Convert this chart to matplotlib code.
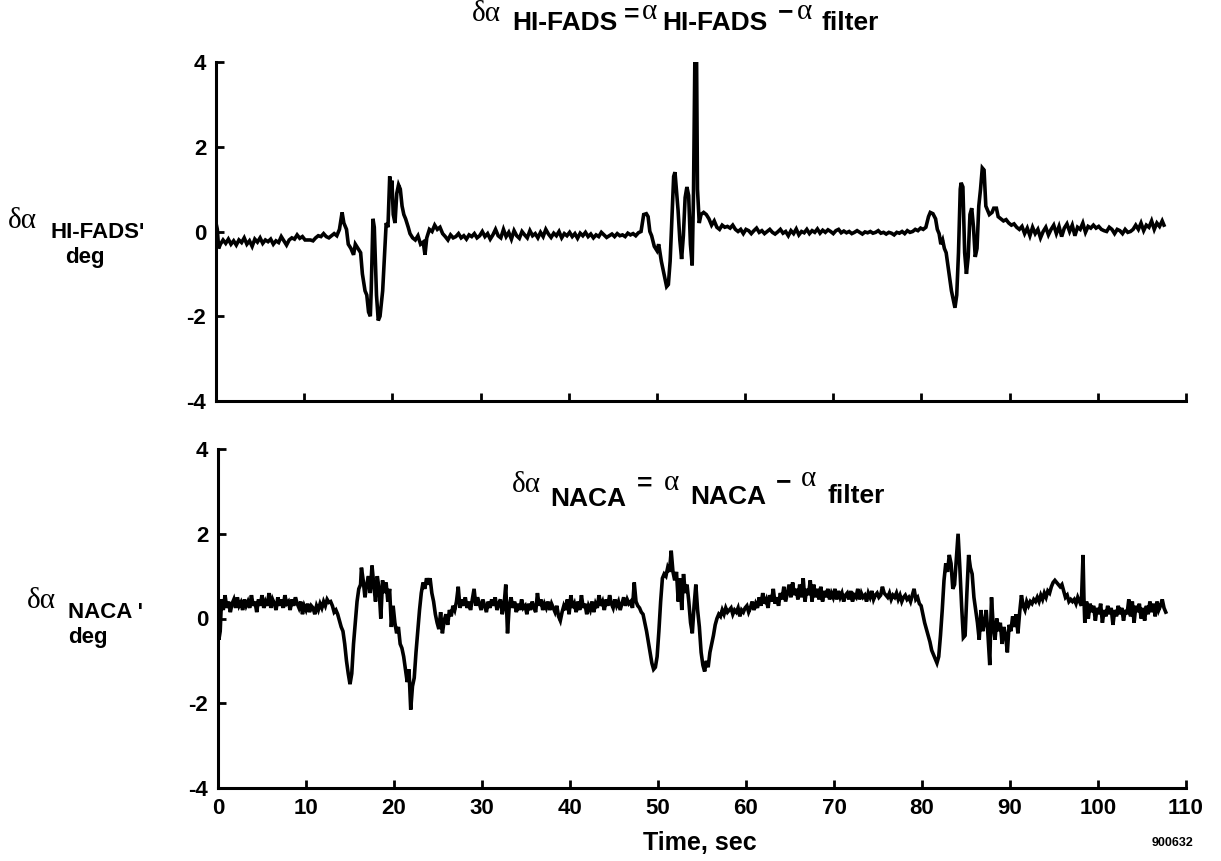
import matplotlib
matplotlib.use('Agg')
import matplotlib.pyplot as plt
from matplotlib.font_manager import FontProperties

# ---------------- data ----------------
t_fads = [0.0, 0.15, 0.3, 0.5, 0.8, 1.1, 1.4, 1.7, 2.0, 2.3, 2.6, 2.9, 3.2, 3.5, 3.8, 4.1, 4.4, 4.7,
          5.0, 5.3, 5.6, 5.9, 6.2, 6.5, 6.8, 7.1, 7.4, 7.7, 8.0, 8.3, 8.6, 8.9, 9.2, 9.5, 9.8,
          10.1, 10.4, 10.7, 11.0, 11.3, 11.6, 11.9, 12.2, 12.5, 12.8, 13.1, 13.4, 13.7, 14.0,
          14.3, 14.5, 14.8, 15.0, 15.3, 15.6, 15.8, 16.1, 16.4, 16.6, 16.9, 17.1, 17.3, 17.5,
          17.6, 17.8, 17.95, 18.2, 18.4, 18.6, 18.9, 19.1, 19.3, 19.5, 19.7, 19.8, 19.95, 20.1,
          20.3, 20.5, 20.7, 20.9, 21.1, 21.3, 21.5, 21.8, 22.0, 22.3, 22.6, 22.9, 23.2, 23.5,
          23.7, 23.9, 24.2, 24.5, 24.8, 25.1, 25.4, 25.7, 26.0, 26.3, 26.6, 26.9, 27.2, 27.5,
          27.8, 28.1, 28.4, 28.7, 29.0, 29.3, 29.6, 29.9, 30.2, 30.5, 30.8, 31.1, 31.4, 31.7,
          32.0, 32.3, 32.6, 32.9, 33.2, 33.5, 33.8, 34.1, 34.4, 34.7, 35.0, 35.3, 35.6, 35.9,
          36.2, 36.5, 36.8, 37.1, 37.4, 37.7, 38.0, 38.3, 38.6, 38.9, 39.2, 39.5, 39.8, 40.1,
          40.4, 40.7, 41.0, 41.3, 41.6, 41.9, 42.2, 42.5, 42.8, 43.1, 43.4, 43.7, 44.0, 44.3,
          44.6, 44.9, 45.2, 45.5, 45.8, 46.1, 46.4, 46.7, 47.0, 47.3, 47.6, 47.9, 48.2, 48.5,
          48.8, 49.0, 49.2, 49.4, 49.7, 50.0, 50.2, 50.5, 50.8, 51.1, 51.3, 51.5, 51.7, 51.9,
          52.05, 52.2, 52.4, 52.6, 52.8, 53.0, 53.2, 53.4, 53.6, 53.8, 54.0, 54.15, 54.3, 54.5,
          54.6, 54.8, 55.0, 55.3, 55.6, 55.9, 56.2, 56.5, 56.8, 57.1, 57.4, 57.7, 58.0, 58.3,
          58.6, 58.9, 59.2, 59.5, 59.8, 60.1, 60.4, 60.7, 61.0, 61.3, 61.6, 61.9, 62.2, 62.5,
          62.8, 63.1, 63.4, 63.7, 64.0, 64.3, 64.6, 64.9, 65.2, 65.5, 65.8, 66.1, 66.4, 66.7,
          67.0, 67.3, 67.6, 67.9, 68.2, 68.5, 68.8, 69.1, 69.4, 69.7, 70.0, 70.3, 70.6, 70.9,
          71.2, 71.5, 71.8, 72.1, 72.4, 72.7, 73.0, 73.3, 73.6, 73.9, 74.2, 74.5, 74.8, 75.1,
          75.4, 75.7, 76.0, 76.3, 76.6, 76.9, 77.2, 77.5, 77.8, 78.1, 78.4, 78.7, 79.0, 79.3,
          79.6, 79.9, 80.2, 80.5, 80.8, 81.0, 81.3, 81.6, 81.8, 82.0, 82.2, 82.4, 82.6, 82.8,
          83.0, 83.2, 83.4, 83.6, 83.8, 84.0, 84.2, 84.4, 84.5, 84.7, 84.9, 85.1, 85.3, 85.5,
          85.7, 85.9, 86.1, 86.3, 86.5, 86.7, 86.9, 87.1, 87.3, 87.5, 87.7, 88.0, 88.2, 88.5,
          88.7, 89.0, 89.3, 89.6, 89.9, 90.2, 90.5, 90.8, 91.1, 91.4, 91.7, 92.0, 92.3, 92.6,
          92.9, 93.2, 93.5, 93.8, 94.1, 94.4, 94.7, 95.0, 95.3, 95.6, 95.9, 96.2, 96.5, 96.8,
          97.1, 97.4, 97.7, 98.0, 98.3, 98.6, 98.9, 99.2, 99.5, 99.8, 100.1, 100.4, 100.7,
          101.0, 101.3, 101.6, 101.9, 102.2, 102.5, 102.8, 103.1, 103.4, 103.7, 104.0, 104.3,
          104.6, 104.9, 105.2, 105.5, 105.8, 106.1, 106.4, 106.7, 107.0, 107.3, 107.5]
v_fads = [0.20, 0.05, -0.40, -0.30, -0.20, -0.28, -0.18, -0.30, -0.22, -0.32, -0.20, -0.26, -0.15,
          -0.30, -0.22, -0.35, -0.18, -0.25, -0.15, -0.28, -0.20, -0.24, -0.18, -0.30, -0.22,
          -0.26, -0.12, -0.22, -0.32, -0.20, -0.15, -0.18, -0.08, -0.16, -0.12, -0.20, -0.20,
          -0.20, -0.22, -0.15, -0.10, -0.12, -0.05, -0.12, -0.15, -0.10, -0.05, -0.10, 0.05,
          0.45, 0.20, 0.05, -0.30, -0.40, -0.55, -0.30, -0.40, -0.50, -1.00, -1.40, -1.50,
          -1.90, -2.00, -1.40, 0.30, 0.10, -1.50, -2.10, -2.00, -1.40, -0.60, 0.20, 0.10, 1.30,
          0.80, 1.20, 0.40, 0.20, 0.90, 1.10, 1.00, 0.60, 0.40, 0.30, 0.10, -0.05, -0.15, -0.20,
          -0.10, -0.30, -0.25, -0.55, -0.15, 0.05, 0.00, 0.15, 0.05, 0.10, -0.05, -0.12, -0.20,
          -0.08, -0.15, -0.12, -0.05, -0.15, -0.10, -0.18, -0.08, -0.12, -0.05, -0.15, -0.10,
          0.00, -0.12, -0.05, -0.18, -0.08, 0.05, -0.10, -0.15, 0.05, -0.12, -0.02, -0.18, 0.02,
          -0.10, -0.16, 0.00, -0.08, -0.15, 0.02, -0.10, -0.05, -0.15, -0.02, -0.12, 0.05,
          -0.06, -0.14, -0.04, -0.10, 0.00, -0.15, -0.05, -0.10, -0.02, -0.12, -0.05, -0.16,
          -0.04, -0.10, -0.02, -0.12, -0.06, -0.15, -0.08, -0.12, -0.02, -0.08, -0.14, -0.10,
          -0.06, -0.12, -0.05, -0.10, -0.08, -0.12, -0.04, -0.08, -0.05, -0.10, -0.03, 0.00,
          0.40, 0.42, 0.35, 0.00, -0.10, -0.35, -0.45, -0.30, -0.70, -1.00, -1.30, -1.25, -0.70,
          0.30, 1.30, 1.40, 1.00, 0.50, -0.20, -0.65, -0.10, 0.80, 1.05, 0.85, -0.30, -0.80,
          0.90, 4.00, 4.00, 1.00, 0.20, 0.40, 0.45, 0.40, 0.30, 0.15, 0.25, 0.10, 0.05, 0.15,
          0.10, 0.12, 0.08, 0.15, 0.05, 0.00, 0.05, -0.05, 0.05, 0.02, -0.05, 0.02, 0.08, -0.02,
          0.02, -0.05, 0.00, 0.05, -0.02, -0.06, -0.01, 0.05, -0.04, 0.00, -0.10, 0.02, -0.05,
          0.06, -0.08, 0.00, -0.03, 0.05, -0.05, 0.02, -0.02, 0.06, -0.04, 0.03, -0.02, 0.04,
          0.00, -0.05, 0.02, 0.05, -0.03, 0.01, -0.03, 0.00, -0.05, -0.02, 0.02, -0.02, -0.06,
          -0.01, -0.03, 0.00, -0.04, -0.02, 0.02, -0.04, -0.02, -0.06, -0.02, -0.04, -0.08,
          -0.02, -0.04, 0.00, -0.05, 0.02, -0.02, 0.00, 0.05, 0.02, 0.08, 0.05, 0.10, 0.35,
          0.45, 0.42, 0.30, 0.05, -0.05, -0.30, -0.20, -0.40, -0.50, -0.80, -1.10, -1.40, -1.60,
          -1.80, -1.50, -0.50, 1.00, 1.15, 1.05, -0.50, -1.00, -0.60, 0.40, 0.55, 0.10, -0.60,
          -0.40, 0.60, 1.00, 1.50, 1.45, 0.60, 0.50, 0.40, 0.45, 0.55, 0.55, 0.35, 0.30, 0.25,
          0.28, 0.20, 0.15, 0.18, 0.10, 0.05, 0.12, -0.05, 0.08, -0.10, 0.10, -0.05, 0.05, -0.15,
          0.00, 0.10, -0.08, 0.05, 0.15, -0.05, 0.12, -0.12, 0.08, 0.18, 0.00, 0.15, -0.10, 0.10,
          0.05, 0.20, -0.02, 0.12, 0.08, 0.15, 0.08, 0.12, 0.05, 0.02, 0.00, 0.10, 0.05, -0.05,
          0.05, 0.02, -0.05, 0.05, -0.02, 0.00, 0.05, 0.15, 0.05, 0.20, 0.02, 0.15, 0.10, 0.25,
          0.05, 0.20, 0.12, 0.25, 0.15]

t_naca = [0.0, 0.1, 0.25, 0.4, 0.6, 0.8, 1.0, 1.2, 1.4, 1.6, 1.8, 2.0, 2.2, 2.4, 2.6, 2.8, 3.0,
          3.2, 3.4, 3.6, 3.8, 4.0, 4.2, 4.4, 4.6, 4.8, 5.0, 5.2, 5.4, 5.6, 5.8, 6.0, 6.2, 6.4,
          6.6, 6.8, 7.0, 7.2, 7.4, 7.6, 7.8, 8.0, 8.2, 8.4, 8.6, 8.8, 9.0, 9.2, 9.4, 9.6, 9.8,
          10.0, 10.2, 10.4, 10.6, 10.8, 11.0, 11.2, 11.4, 11.6, 11.8, 12.0, 12.2, 12.4, 12.6,
          12.8, 13.0, 13.2, 13.4, 13.6, 13.8, 14.0, 14.2, 14.4, 14.6, 14.8, 15.0, 15.2, 15.4,
          15.6, 15.8, 16.0, 16.2, 16.3, 16.5, 16.7, 16.9, 17.1, 17.3, 17.5, 17.7, 17.9, 18.1,
          18.3, 18.5, 18.7, 18.9, 19.1, 19.3, 19.5, 19.7, 19.9, 20.1, 20.3, 20.5, 20.7, 20.9,
          21.1, 21.3, 21.5, 21.7, 21.9, 22.1, 22.3, 22.5, 22.7, 22.9, 23.1, 23.3, 23.5, 23.7,
          23.9, 24.1, 24.3, 24.5, 24.7, 24.9, 25.1, 25.3, 25.5, 25.7, 25.9, 26.1, 26.3, 26.5,
          26.7, 26.9, 27.1, 27.3, 27.5, 27.7, 27.9, 28.1, 28.3, 28.5, 28.7, 28.9, 29.1, 29.3,
          29.5, 29.7, 29.9, 30.1, 30.3, 30.5, 30.7, 30.9, 31.1, 31.3, 31.5, 31.7, 31.9, 32.1,
          32.3, 32.5, 32.7, 32.9, 33.1, 33.3, 33.5, 33.7, 33.9, 34.1, 34.3, 34.5, 34.7, 34.9,
          35.1, 35.3, 35.5, 35.7, 35.9, 36.1, 36.3, 36.5, 36.7, 36.9, 37.1, 37.3, 37.5, 37.7,
          37.9, 38.1, 38.3, 38.5, 38.7, 38.9, 39.1, 39.3, 39.5, 39.7, 39.9, 40.1, 40.3, 40.5,
          40.7, 40.9, 41.1, 41.3, 41.5, 41.7, 41.9, 42.1, 42.3, 42.5, 42.7, 42.9, 43.1, 43.3,
          43.5, 43.7, 43.9, 44.1, 44.3, 44.5, 44.7, 44.9, 45.1, 45.3, 45.5, 45.7, 45.9, 46.1,
          46.3, 46.5, 46.7, 46.9, 47.1, 47.3, 47.5, 47.7, 47.9, 48.1, 48.3, 48.5, 48.7, 48.9,
          49.1, 49.3, 49.5, 49.7, 49.9, 50.1, 50.3, 50.5, 50.7, 50.9, 51.1, 51.3, 51.5, 51.7,
          51.9, 52.1, 52.3, 52.5, 52.7, 52.9, 53.1, 53.3, 53.5, 53.7, 53.9, 54.1, 54.3, 54.5,
          54.7, 54.9, 55.1, 55.3, 55.5, 55.7, 55.9, 56.1, 56.3, 56.5, 56.7, 56.9, 57.1, 57.3,
          57.5, 57.7, 57.9, 58.1, 58.3, 58.5, 58.7, 58.9, 59.1, 59.3, 59.5, 59.7, 59.9, 60.1,
          60.3, 60.5, 60.7, 60.9, 61.1, 61.3, 61.5, 61.7, 61.9, 62.1, 62.3, 62.5, 62.7, 62.9,
          63.1, 63.3, 63.5, 63.7, 63.9, 64.1, 64.3, 64.5, 64.7, 64.9, 65.1, 65.3, 65.5, 65.7,
          65.9, 66.1, 66.3, 66.5, 66.7, 66.9, 67.1, 67.3, 67.5, 67.7, 67.9, 68.1, 68.3, 68.5,
          68.7, 68.9, 69.1, 69.3, 69.5, 69.7, 69.9, 70.1, 70.3, 70.5, 70.7, 70.9, 71.1, 71.3,
          71.5, 71.7, 71.9, 72.1, 72.3, 72.5, 72.7, 72.9, 73.1, 73.3, 73.5, 73.7, 73.9, 74.1,
          74.3, 74.5, 74.7, 74.9, 75.1, 75.3, 75.5, 75.7, 75.9, 76.1, 76.3, 76.5, 76.7, 76.9,
          77.1, 77.3, 77.5, 77.7, 77.9, 78.1, 78.3, 78.5, 78.7, 78.9, 79.1, 79.3, 79.5, 79.7,
          79.9, 80.1, 80.3, 80.5, 80.7, 80.9, 81.1, 81.3, 81.5, 81.7, 81.9, 82.1, 82.3, 82.5,
          82.7, 82.9, 83.1, 83.3, 83.5, 83.7, 83.9, 84.1, 84.3, 84.5, 84.7, 84.9, 85.1, 85.3,
          85.5, 85.7, 85.9, 86.1, 86.3, 86.5, 86.7, 86.9, 87.1, 87.3, 87.5, 87.7, 87.8, 87.9,
          88.1, 88.3, 88.5, 88.7, 88.9, 89.1, 89.3, 89.5, 89.7, 89.9, 90.1, 90.3, 90.5, 90.7,
          90.9, 91.1, 91.3, 91.5, 91.7, 91.9, 92.1, 92.3, 92.5, 92.7, 92.9, 93.1, 93.3, 93.5,
          93.7, 93.9, 94.1, 94.3, 94.5, 94.7, 94.9, 95.1, 95.3, 95.5, 95.7, 95.9, 96.1, 96.3,
          96.5, 96.7, 96.9, 97.1, 97.3, 97.5, 97.7, 97.9, 98.1, 98.3, 98.4, 98.5, 98.7, 98.9,
          99.1, 99.3, 99.5, 99.7, 99.9, 100.1, 100.3, 100.5, 100.7, 100.9, 101.1, 101.3, 101.5,
          101.7, 101.9, 102.1, 102.3, 102.5, 102.7, 102.9, 103.1, 103.3, 103.5, 103.7, 103.9,
          104.1, 104.3, 104.5, 104.7, 104.9, 105.1, 105.3, 105.5, 105.7, 105.9, 106.1, 106.3,
          106.5, 106.7, 106.9, 107.1, 107.3, 107.5, 107.7]
v_naca = [0.20, -0.50, -0.30, 0.45, 0.20, 0.55, 0.25, 0.40, 0.15, 0.35, 0.45, 0.25, 0.50, 0.30,
          0.38, 0.20, 0.45, 0.30, 0.40, 0.25, 0.55, 0.30, 0.40, 0.15, 0.45, 0.30, 0.55, 0.25,
          0.40, 0.30, 0.60, 0.25, 0.45, 0.35, 0.20, 0.50, 0.30, 0.45, 0.25, 0.55, 0.35, 0.40,
          0.20, 0.45, 0.30, 0.50, 0.35, 0.25, 0.40, 0.10, 0.30, 0.20, 0.35, 0.15, 0.30, 0.25,
          0.10, 0.30, 0.20, 0.35, 0.25, 0.40, 0.30, 0.45, 0.38, 0.40, 0.30, 0.15, 0.20, 0.10,
          -0.05, -0.20, -0.30, -0.60, -1.00, -1.30, -1.55, -1.30, -0.60, -0.10, 0.40, 0.70,
          0.80, 1.20, 0.90, 0.50, 0.80, 1.00, 0.60, 1.25, 0.80, 0.40, 1.00, 0.70, 0.00, 0.90,
          0.60, 0.85, 0.40, 0.70, -0.20, 0.30, -0.10, -0.35, -0.20, -0.60, -0.70, -0.90, -1.20,
          -1.50, -1.20, -2.15, -1.60, -1.40, -0.80, -0.30, 0.20, 0.60, 0.85, 0.70, 0.95, 0.80,
          0.95, 0.60, 0.40, 0.10, -0.10, -0.25, 0.15, -0.35, -0.05, 0.10, -0.15, 0.20, 0.05,
          0.30, 0.20, 0.40, 0.75, 0.25, 0.45, 0.30, 0.50, 0.25, 0.40, 0.20, 0.45, 0.70, 0.30,
          0.50, 0.35, 0.20, 0.45, 0.30, 0.15, 0.40, 0.25, 0.45, 0.30, 0.50, 0.20, 0.35, 0.45,
          0.10, 0.30, 0.80, -0.35, 0.30, 0.50, 0.25, 0.40, 0.15, 0.35, 0.20, 0.45, 0.25, 0.30,
          0.10, 0.35, 0.20, 0.40, 0.25, 0.15, 0.60, 0.30, 0.45, 0.20, 0.35, 0.25, 0.40, 0.20,
          0.35, 0.25, 0.15, 0.30, 0.05, -0.05, 0.15, 0.30, 0.20, 0.45, 0.10, 0.55, 0.25, 0.35,
          0.15, 0.40, 0.20, 0.55, 0.25, 0.35, 0.10, 0.30, 0.20, 0.40, 0.15, 0.35, 0.25, 0.55,
          0.30, 0.40, 0.20, 0.45, 0.30, 0.55, 0.35, 0.25, 0.45, 0.30, 0.40, 0.20, 0.35, 0.50,
          0.30, 0.45, 0.35, 0.40, 0.25, 0.85, 0.40, 0.30, 0.25, 0.15, 0.10, -0.10, -0.30, -0.55,
          -0.80, -1.05, -1.20, -1.15, -0.90, -0.30, 0.40, 0.95, 1.05, 1.00, 1.20, 1.10, 1.60,
          1.10, 0.90, 1.10, 0.40, 0.95, 0.20, 1.05, 0.60, 0.80, 0.40, -0.10, -0.35, 0.30, 0.80,
          0.20, -0.20, -0.80, -1.10, -1.25, -1.00, -1.15, -0.80, -0.60, -0.40, -0.15, 0.00,
          0.10, 0.05, 0.20, 0.10, 0.25, 0.15, 0.20, 0.25, 0.10, 0.20, 0.15, 0.25, 0.05, 0.20,
          0.15, 0.25, 0.30, 0.15, 0.25, 0.40, 0.20, 0.35, 0.25, 0.50, 0.30, 0.60, 0.35, 0.45,
          0.25, 0.55, 0.40, 0.70, 0.35, 0.50, 0.30, 0.60, 0.45, 0.75, 0.40, 0.60, 0.80, 0.50,
          0.85, 0.55, 0.70, 0.45, 0.80, 0.50, 0.95, 0.40, 0.70, 0.55, 0.90, 0.40, 0.80, 0.50,
          0.70, 0.45, 0.75, 0.40, 0.65, 0.50, 0.70, 0.45, 0.60, 0.50, 0.70, 0.45, 0.65, 0.50,
          0.60, 0.40, 0.55, 0.60, 0.45, 0.65, 0.40, 0.55, 0.50, 0.70, 0.45, 0.60, 0.50, 0.55,
          0.40, 0.60, 0.50, 0.65, 0.45, 0.55, 0.60, 0.50, 0.55, 0.75, 0.60, 0.55, 0.50, 0.60,
          0.45, 0.55, 0.50, 0.60, 0.45, 0.55, 0.40, 0.50, 0.55, 0.45, 0.50, 0.40, 0.55, 0.70,
          0.45, 0.50, 0.35, 0.30, 0.10, -0.10, -0.25, -0.40, -0.55, -0.75, -0.85, -0.95, -1.05,
          -0.90, -0.40, 0.20, 0.90, 1.30, 1.10, 1.50, 1.30, 0.70, 0.80, 1.40, 2.00, 1.20, 0.30,
          -0.45, -0.40, 0.60, 1.50, 1.20, 1.05, 0.50, 0.20, -0.10, -0.50, 0.20, -0.30, -0.10,
          0.20, -0.40, -1.10, -0.20, 0.50, -0.20, -0.50, 0.00, -0.30, -0.10, -0.60, -0.20,
          -0.40, -0.80, -0.15, -0.30, 0.05, -0.20, 0.10, -0.35, 0.15, 0.55, 0.30, 0.20, 0.40,
          0.30, 0.40, 0.35, 0.45, 0.40, 0.50, 0.40, 0.55, 0.45, 0.60, 0.50, 0.65, 0.60, 0.75,
          0.85, 0.90, 0.85, 0.80, 0.75, 0.80, 0.65, 0.50, 0.55, 0.40, 0.45, 0.40, 0.45, 0.35,
          0.50, 0.40, 0.30, 1.50, 0.50, -0.10, 0.40, 0.00, 0.35, 0.15, 0.30, -0.05, 0.25, 0.10,
          0.35, -0.10, 0.20, 0.05, 0.30, 0.10, 0.25, -0.15, 0.20, 0.05, 0.30, 0.10, 0.25, -0.05,
          0.20, 0.10, 0.45, 0.05, 0.40, -0.10, 0.30, 0.15, 0.35, 0.00, 0.25, -0.05, 0.30, 0.10,
          0.40, 0.15, 0.35, 0.05, 0.40, 0.20, 0.30, 0.45, 0.25, 0.15]

x_ticks = [0, 10, 20, 30, 40, 50, 60, 70, 80, 90, 100, 110]
y_ticks = [-4, -2, 0, 2, 4]
y_tick_labels = ['-4', '-2', '0', '2', '4']

# ---------------- figure ----------------
plt.rcParams['axes.unicode_minus'] = False
W, H = 1221, 861
fig = plt.figure(figsize=(W / 100, H / 100), dpi=100)

tickfp = FontProperties(family='Liberation Sans', weight='bold', size=16)
lblfp = FontProperties(family='Liberation Sans', weight='bold', size=16)
ttlfp = FontProperties(family='Liberation Sans', weight='bold', size=19)
greek = FontProperties(family='Liberation Serif', size=21)
small = FontProperties(family='Liberation Sans', weight='bold', size=9)
xlfp = FontProperties(family='Liberation Sans', weight='bold', size=18)

LW = 2.6


def style_axes(ax, show_xlabels):
    for s in ['top', 'right']:
        ax.spines[s].set_visible(False)
    for s in ['left', 'bottom']:
        ax.spines[s].set_linewidth(2.2)
    ax.set_xlim(0, 110)
    ax.set_ylim(-4, 4)
    ax.set_xticks(x_ticks)
    ax.set_yticks(y_ticks)
    ax.set_yticklabels(y_tick_labels, fontproperties=tickfp)
    if show_xlabels:
        ax.set_xticklabels([str(v) for v in x_ticks], fontproperties=tickfp)
    else:
        ax.set_xticklabels([])
    ax.tick_params(direction='in', length=5.5, width=2.0, pad=7)


ax1 = fig.add_axes([216 / W, 1 - 401 / H, 970 / W, 339 / H])
ax1.plot(t_fads, v_fads, color='black', lw=LW, solid_joinstyle='miter')
style_axes(ax1, False)

ax2 = fig.add_axes([218 / W, 1 - 788 / H, 968 / W, 339 / H])
ax2.plot(t_naca, v_naca, color='black', lw=LW, solid_joinstyle='miter')
style_axes(ax2, True)


def put(x, y, s, fp):
    fig.text(x / W, 1 - y / H, s, fontproperties=fp, ha='left', va='baseline')


# top title
put(472, 21, 'δα', greek)
put(512, 30, 'HI-FADS', ttlfp)
put(624, 22, '=', ttlfp)
put(642, 19, 'α', greek)
put(662, 30, 'HI-FADS', ttlfp)
put(778, 19, '−', ttlfp)
put(797, 19, 'α', greek)
put(822, 30, 'filter', ttlfp)

# bottom panel inner title
put(512, 492, 'δα', greek)
put(550, 506, 'NACA', ttlfp)
put(637, 491, '=', ttlfp)
put(664, 490, 'α', greek)
put(690, 504, 'NACA', ttlfp)
put(776, 489, '−', ttlfp)
put(801, 486, 'α', greek)
put(828, 503, 'filter', ttlfp)

# y labels
put(8, 228, 'δα', greek)
put(50, 238, "HI-FADS'", lblfp)
put(65, 263, 'deg', lblfp)

put(27, 608, 'δα', greek)
put(68, 618, "NACA '", lblfp)
put(68, 643, 'deg', lblfp)

# x label and figure id
put(643, 850, 'Time, sec', xlfp)
put(1152, 846, '900632', small)

fig.savefig('out.png', dpi=100)
